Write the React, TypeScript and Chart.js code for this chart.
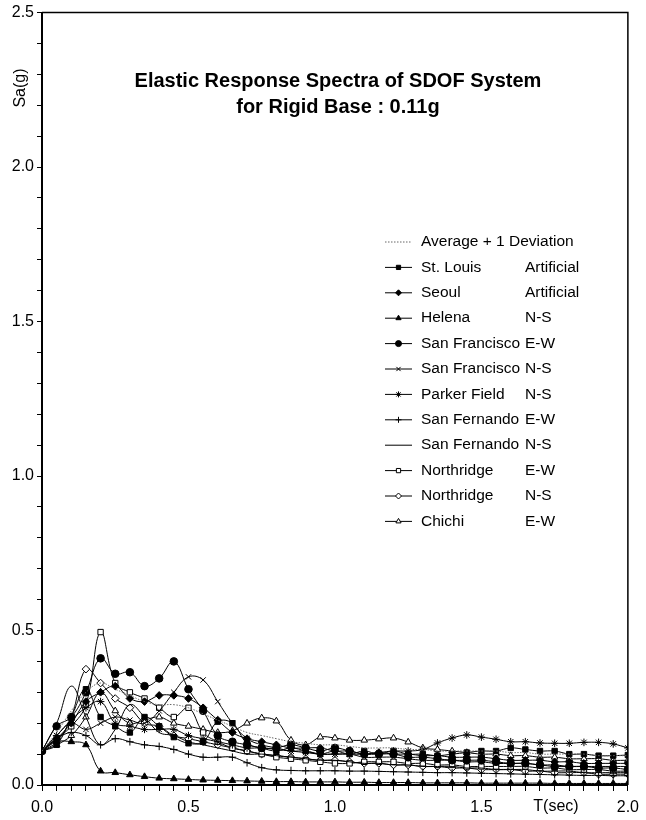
import React, { useEffect, useRef } from 'react';
import { Chart, registerables } from 'chart.js';
import { drawPoint } from 'chart.js/helpers';

Chart.register(...registerables);

const periods = [
  0, 0.05, 0.1, 0.15, 0.2, 0.25, 0.3, 0.35, 0.4, 0.45,
  0.5, 0.55, 0.6, 0.65, 0.7, 0.75, 0.8, 0.85, 0.9, 0.95,
  1.0, 1.05, 1.1, 1.15, 1.2, 1.25, 1.3, 1.35, 1.4, 1.45,
  1.5, 1.55, 1.6, 1.65, 1.7, 1.75, 1.8, 1.85, 1.9, 1.95, 2.0,
];

const avgPlus1Dev = [
  0.11, 0.17, 0.24, 0.30, 0.33, 0.31, 0.29, 0.27, 0.26, 0.26,
  0.25, 0.23, 0.21, 0.19, 0.17, 0.16, 0.15, 0.14, 0.135, 0.13,
  0.13, 0.125, 0.12, 0.12, 0.12, 0.115, 0.115, 0.11, 0.11, 0.11,
  0.11, 0.11, 0.105, 0.105, 0.10, 0.10, 0.10, 0.10, 0.095, 0.095, 0.095,
];
const stLouis = [
  0.11, 0.13, 0.22, 0.31, 0.22, 0.19, 0.17, 0.22, 0.19, 0.155,
  0.135, 0.14, 0.205, 0.20, 0.135, 0.12, 0.11, 0.12, 0.11, 0.10,
  0.11, 0.10, 0.11, 0.10, 0.11, 0.10, 0.10, 0.095, 0.10, 0.105,
  0.11, 0.11, 0.12, 0.115, 0.11, 0.11, 0.10, 0.10, 0.095, 0.095, 0.097,
];
const seoul = [
  0.11, 0.15, 0.20, 0.27, 0.30, 0.32, 0.28, 0.27, 0.29, 0.29,
  0.28, 0.25, 0.21, 0.17, 0.15, 0.14, 0.13, 0.12, 0.12, 0.12,
  0.11, 0.11, 0.10, 0.105, 0.10, 0.10, 0.095, 0.095, 0.09, 0.09,
  0.09, 0.085, 0.08, 0.08, 0.08, 0.075, 0.075, 0.07, 0.07, 0.07, 0.07,
];
const helena = [
  0.11, 0.14, 0.14, 0.13, 0.045, 0.04, 0.033, 0.027, 0.022, 0.02,
  0.018, 0.016, 0.015, 0.014, 0.013, 0.012, 0.011, 0.011, 0.01, 0.01,
  0.01, 0.009, 0.009, 0.008, 0.008, 0.008, 0.007, 0.007, 0.007, 0.007,
  0.006, 0.006, 0.006, 0.006, 0.006, 0.005, 0.005, 0.005, 0.005, 0.005, 0.005,
];
const sanFranciscoEW = [
  0.11, 0.19, 0.22, 0.30, 0.41, 0.36, 0.365, 0.32, 0.345, 0.40,
  0.31, 0.24, 0.16, 0.14, 0.13, 0.12, 0.12, 0.13, 0.12, 0.11,
  0.12, 0.11, 0.10, 0.10, 0.10, 0.09, 0.09, 0.085, 0.08, 0.08,
  0.08, 0.075, 0.07, 0.07, 0.065, 0.06, 0.06, 0.06, 0.055, 0.055, 0.05,
];
const sanFranciscoNS = [
  0.11, 0.16, 0.20, 0.18, 0.20, 0.22, 0.21, 0.20, 0.24, 0.30,
  0.35, 0.34, 0.27, 0.20, 0.15, 0.13, 0.12, 0.11, 0.11, 0.10,
  0.10, 0.10, 0.09, 0.09, 0.09, 0.085, 0.08, 0.08, 0.08, 0.075,
  0.075, 0.07, 0.07, 0.07, 0.065, 0.065, 0.06, 0.06, 0.06, 0.06, 0.06,
];
const parkerFieldNS = [
  0.11, 0.16, 0.21, 0.25, 0.27, 0.20, 0.19, 0.18, 0.18, 0.18,
  0.16, 0.15, 0.14, 0.13, 0.12, 0.12, 0.115, 0.11, 0.105, 0.10,
  0.10, 0.10, 0.10, 0.105, 0.11, 0.11, 0.115, 0.136, 0.152, 0.162,
  0.155, 0.148, 0.14, 0.14, 0.136, 0.135, 0.135, 0.138, 0.138, 0.133, 0.12,
];
const sanFernandoEW = [
  0.11, 0.15, 0.17, 0.16, 0.13, 0.15, 0.14, 0.13, 0.125, 0.115,
  0.10, 0.09, 0.09, 0.09, 0.072, 0.056, 0.049, 0.047, 0.046, 0.046,
  0.046, 0.045, 0.045, 0.044, 0.043, 0.042, 0.041, 0.04, 0.04, 0.039,
  0.038, 0.037, 0.036, 0.035, 0.034, 0.033, 0.032, 0.031, 0.031, 0.03, 0.03,
];
const sanFernandoNS = [
  0.11, 0.20, 0.32, 0.22, 0.13, 0.18, 0.26, 0.22, 0.17, 0.16,
  0.14, 0.13, 0.12, 0.11, 0.10, 0.10, 0.095, 0.09, 0.085, 0.08,
  0.08, 0.075, 0.07, 0.07, 0.065, 0.065, 0.06, 0.06, 0.06, 0.055,
  0.055, 0.05, 0.05, 0.05, 0.045, 0.045, 0.045, 0.04, 0.04, 0.04, 0.04,
];
const northridgeEW = [
  0.11, 0.15, 0.19, 0.26, 0.495, 0.33, 0.30, 0.28, 0.25, 0.22,
  0.25, 0.17, 0.14, 0.12, 0.11, 0.10, 0.09, 0.085, 0.08, 0.075,
  0.07, 0.07, 0.075, 0.075, 0.075, 0.07, 0.07, 0.065, 0.065, 0.06,
  0.06, 0.06, 0.06, 0.06, 0.055, 0.055, 0.05, 0.05, 0.05, 0.045, 0.045,
];
const northridgeNS = [
  0.11, 0.14, 0.22, 0.375, 0.33, 0.28, 0.25, 0.20, 0.19, 0.16,
  0.15, 0.14, 0.13, 0.12, 0.11, 0.10, 0.095, 0.09, 0.085, 0.08,
  0.08, 0.075, 0.07, 0.07, 0.065, 0.065, 0.06, 0.06, 0.055, 0.055,
  0.05, 0.05, 0.05, 0.045, 0.045, 0.04, 0.04, 0.04, 0.035, 0.035, 0.035,
];
const chichiEW = [
  0.11, 0.13, 0.16, 0.22, 0.30, 0.24, 0.20, 0.21, 0.22, 0.20,
  0.19, 0.18, 0.17, 0.175, 0.20, 0.217, 0.207, 0.145, 0.13, 0.155,
  0.152, 0.145, 0.145, 0.149, 0.152, 0.139, 0.12, 0.115, 0.11, 0.105,
  0.10, 0.10, 0.095, 0.095, 0.09, 0.09, 0.085, 0.085, 0.085, 0.08, 0.08,
];

const seriesNames = [
  'Average + 1 Deviation', 'St. Louis', 'Seoul', 'Helena', 'San Francisco', 'San Francisco',
  'Parker Field', 'San Fernando', 'San Fernando', 'Northridge', 'Northridge', 'Chichi',
];
const seriesComponents = [
  '', 'Artificial', 'Artificial', 'N-S', 'E-W', 'N-S', 'N-S', 'E-W', 'N-S', 'E-W', 'N-S', 'E-W',
];
const seriesValues = [
  avgPlus1Dev, stLouis, seoul, helena, sanFranciscoEW, sanFranciscoNS,
  parkerFieldNS, sanFernandoEW, sanFernandoNS, northridgeEW, northridgeNS, chichiEW,
];
const seriesMarkers: (string | false)[] = [
  false, 'rect', 'rectRot', 'triangle', 'circle', 'crossRot', 'star', 'cross', false, 'rect', 'rectRot', 'triangle',
];
const seriesMarkerFill = [
  '#000', '#000', '#000', '#000', '#000', '#000', '#000', '#000', '#000', '#fff', '#fff', '#fff',
];

const titleLines = ['Elastic Response Spectra of SDOF System', 'for Rigid Base : 0.11g'];
const yAxisTitle = 'Sa(g)';
const xAxisTitle = 'T(sec)';

const FONT = '"Liberation Sans", Arial, Helvetica, sans-serif';

const decorPlugin = {
  id: 'decor',
  afterDraw(chart: any) {
    const c = chart.ctx as CanvasRenderingContext2D;
    const a = chart.chartArea;
    c.save();
    // frame top/right
    c.strokeStyle = '#000';
    c.lineWidth = 1.5;
    c.beginPath();
    c.moveTo(a.left, a.top);
    c.lineTo(a.right, a.top);
    c.lineTo(a.right, a.bottom);
    c.stroke();

    // title
    c.fillStyle = '#000';
    c.textAlign = 'center';
    c.textBaseline = 'alphabetic';
    c.font = 'bold 20px ' + FONT;
    const cx = (a.left + a.right) / 2 + 3;
    c.fillText(titleLines[0], cx, 87);
    c.fillText(titleLines[1], cx, 113);

    // y axis title
    c.save();
    c.translate(21, 88);
    c.rotate(-Math.PI / 2);
    c.font = '16px ' + FONT;
    c.textAlign = 'center';
    c.textBaseline = 'middle';
    c.fillText(yAxisTitle, 0, 0);
    c.restore();

    // x axis title
    c.font = '16px ' + FONT;
    c.textAlign = 'center';
    c.textBaseline = 'middle';
    c.fillText(xAxisTitle, 556, 807);

    // legend
    chart.data.datasets.forEach((ds: any, i: number) => {
      const y = 242 + i * 25.4;
      c.strokeStyle = ds.borderColor;
      c.lineWidth = ds.borderWidth;
      c.setLineDash(ds.borderDash || []);
      c.beginPath();
      c.moveTo(385, y);
      c.lineTo(412, y);
      c.stroke();
      c.setLineDash([]);
      if (seriesMarkers[i]) {
        c.fillStyle = seriesMarkerFill[i];
        c.strokeStyle = '#000';
        c.lineWidth = 1;
        drawPoint(c, { pointStyle: seriesMarkers[i], radius: 3, borderWidth: 1, rotation: 0 } as any, 398.5, y);
      }
      c.fillStyle = '#000';
      c.font = '15.5px ' + FONT;
      c.textAlign = 'left';
      c.textBaseline = 'middle';
      c.fillText(seriesNames[i], 421, y);
      if (seriesComponents[i]) {
        const w = c.measureText(seriesNames[i]).width;
        c.fillText(seriesComponents[i], Math.max(525, 421 + w + 3), y);
      }
    });
    c.restore();
  },
};

function halfLabel(value: number) {
  const v = Math.round(value * 100) / 100;
  if (Math.abs(v * 2 - Math.round(v * 2)) < 1e-6) return v.toFixed(1);
  return '';
}

export default function App() {
  const ref = useRef<HTMLCanvasElement>(null);
  useEffect(() => {
    document.body.style.margin = '0';
    const canvas = ref.current!;
    const datasets = seriesValues.map((vals, i) => ({
      label: seriesNames[i] + (seriesComponents[i] ? ' ' + seriesComponents[i] : ''),
      data: periods.map((t, k) => ({ x: t, y: vals[k] })),
      borderColor: i === 0 ? '#666' : '#000',
      borderWidth: 1,
      borderDash: i === 0 ? [1.5, 1.5] : [],
      tension: 0.4,
      fill: false,
      pointStyle: seriesMarkers[i] || 'circle',
      pointRadius: seriesMarkers[i] ? 3.8 : 0,
      pointHoverRadius: 0,
      pointBackgroundColor: seriesMarkerFill[i],
      pointBorderColor: '#000',
      pointBorderWidth: 1,
    }));
    const chart = new Chart(canvas, {
      type: 'line',
      data: { datasets },
      options: {
        animation: false,
        responsive: false,
        devicePixelRatio: 1,
        layout: { padding: { left: 0, right: 13, top: 12, bottom: 0 } },
        plugins: { legend: { display: false }, tooltip: { enabled: false }, title: { display: false } },
        scales: {
          x: {
            type: 'linear',
            min: 0,
            max: 2,
            afterFit: (s: any) => { s.height = 35; },
            border: { display: true, color: '#000', width: 2 },
            grid: { display: true, drawOnChartArea: false, drawTicks: true, tickLength: 6, color: '#000', lineWidth: 1 },
            ticks: {
              stepSize: 0.05,
              autoSkip: false,
              maxRotation: 0,
              padding: 7,
              color: '#000',
              font: { family: FONT, size: 16 },
              callback: (v: any) => halfLabel(Number(v)),
            },
          },
          y: {
            type: 'linear',
            min: 0,
            max: 2.5,
            afterFit: (s: any) => { s.width = 42; },
            border: { display: true, color: '#000', width: 2 },
            grid: { display: true, drawOnChartArea: false, drawTicks: true, tickLength: 5, color: '#000', lineWidth: 1 },
            ticks: {
              stepSize: 0.1,
              autoSkip: false,
              padding: 3,
              color: '#000',
              font: { family: FONT, size: 16 },
              callback: (v: any) => halfLabel(Number(v)),
            },
          },
        },
      },
      plugins: [decorPlugin],
    } as any);
    return () => chart.destroy();
  }, []);
  return (
    <div style={{ width: 646, height: 820, position: 'relative', background: '#fff' }}>
      <canvas ref={ref} width={646} height={820} style={{ display: 'block' }} />
    </div>
  );
}
